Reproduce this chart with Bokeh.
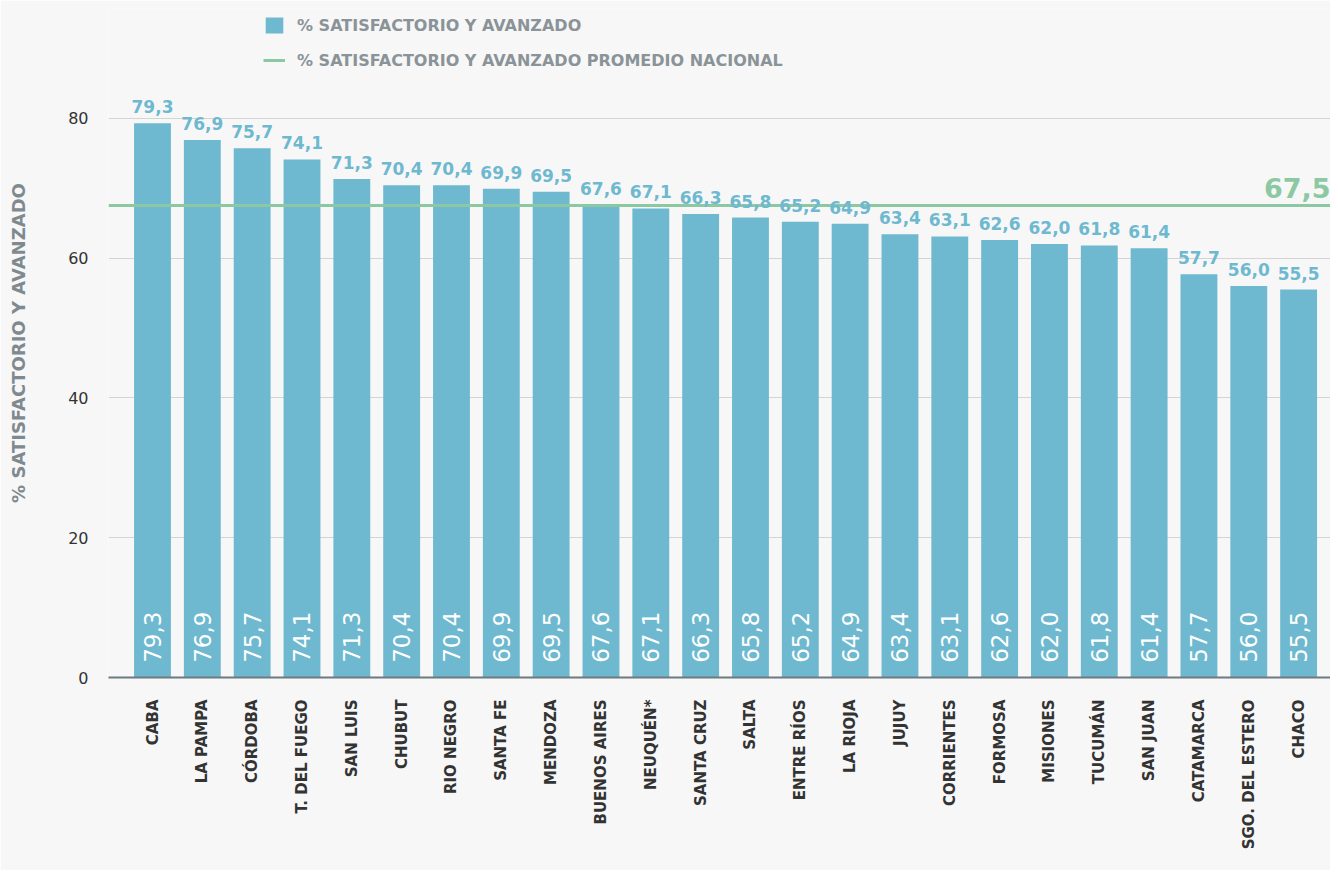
import math
from bokeh.plotting import figure
from bokeh.models import ColumnDataSource, Range1d, Legend, LegendItem, Label, FixedTicker
from bokeh.core.properties import value
from bokeh.embed import file_html
from bokeh.resources import INLINE

provinces = ["CABA", "LA PAMPA", "CÓRDOBA", "T. DEL FUEGO", "SAN LUIS", "CHUBUT",
             "RIO NEGRO", "SANTA FE", "MENDOZA", "BUENOS AIRES", "NEUQUÉN*", "SANTA CRUZ",
             "SALTA", "ENTRE RÍOS", "LA RIOJA", "JUJUY", "CORRIENTES", "FORMOSA",
             "MISIONES", "TUCUMÁN", "SAN JUAN", "CATAMARCA", "SGO. DEL ESTERO", "CHACO"]
values = [79.3, 76.9, 75.7, 74.1, 71.3, 70.4, 70.4, 69.9, 69.5, 67.6, 67.1, 66.3,
          65.8, 65.2, 64.9, 63.4, 63.1, 62.6, 62.0, 61.8, 61.4, 57.7, 56.0, 55.5]
national = 67.5
y_ticks = [0, 20, 40, 60, 80]

series_label = "% SATISFACTORIO Y AVANZADO"
national_label = "% SATISFACTORIO Y AVANZADO PROMEDIO NACIONAL"

BAR = "#6eb9d0"
GREEN = "#8cc9a2"
BG = "#f7f7f7"
FONT = "DejaVu Sans"

def fmt(v):
    return f"{v:.1f}".replace(".", ",")

xs = list(range(len(provinces)))
src = ColumnDataSource(dict(
    x=xs, top=values, label=[fmt(v) for v in values],
    base=[2.1] * len(values),
))

x_start = -0.883
x_end = len(provinces) - 0.36
p = figure(width=1330, height=870, output_backend="svg", toolbar_location=None,
           x_range=Range1d(x_start, x_end), y_range=Range1d(0, 95.7),
           min_border_left=108, min_border_right=0, min_border_top=8, min_border_bottom=193)
p.background_fill_color = BG
p.border_fill_color = BG
p.outline_line_color = None

bars = p.vbar(x="x", top="top", width=0.74, bottom=0, source=src,
              fill_color=BAR, line_color=None)
span = p.hspan(y=[national], line_color=GREEN, line_width=3)

p.text(x="x", y="top", text="label", source=src, text_align="center",
       text_baseline="bottom", y_offset=-10, text_color=BAR,
       text_font=value(FONT), text_font_style="bold", text_font_size="17px")
p.text(x="x", y="base", text="label", source=src, text_align="left",
       text_baseline="middle", angle=math.pi / 2, text_color="white",
       text_font=value(FONT), text_font_size="23px")

p.add_layout(Label(x=x_end, y=national, text=fmt(national), text_align="right",
                   text_baseline="bottom", y_offset=8, text_color=GREEN,
                   text_font=FONT, text_font_style="bold", text_font_size="27px"))

# axes
p.xaxis.ticker = FixedTicker(ticks=xs)
p.xaxis.major_label_overrides = {i: n for i, n in enumerate(provinces)}
p.xaxis.major_label_orientation = math.pi / 2
p.xaxis.major_label_standoff = 22
p.xaxis.major_tick_out = 0
p.xaxis.major_tick_line_color = None
p.xaxis.minor_tick_line_color = None
p.xaxis.axis_line_color = "#6d7b80"
p.xaxis.axis_line_width = 2
p.xaxis.major_label_text_font = FONT
p.xaxis.major_label_text_font_style = "bold"
p.xaxis.major_label_text_font_size = "15px"
p.xaxis.major_label_text_color = "#333333"

p.yaxis.ticker = FixedTicker(ticks=y_ticks)
p.yaxis.axis_line_color = None
p.yaxis.major_tick_out = 0
p.yaxis.major_tick_line_color = None
p.yaxis.minor_tick_line_color = None
p.yaxis.major_label_standoff = 20
p.yaxis.major_label_text_font = FONT
p.yaxis.major_label_text_font_size = "16px"
p.yaxis.major_label_text_color = "#333333"
p.yaxis.axis_label = series_label
p.yaxis.axis_label_standoff = 36
p.yaxis.axis_label_text_font = FONT
p.yaxis.axis_label_text_font_style = "bold"
p.yaxis.axis_label_text_font_size = "18px"
p.yaxis.axis_label_text_color = "#7f8a8f"

p.xgrid.grid_line_color = None
p.ygrid.grid_line_color = "#d4d4d4"
p.ygrid.grid_line_width = 1

legend = Legend(items=[LegendItem(label=series_label, renderers=[bars]),
                       LegendItem(label=national_label, renderers=[span])],
                location=(155, 607), orientation="vertical",
                glyph_width=22, glyph_height=20, spacing=15, padding=0, margin=0,
                label_standoff=12,
                background_fill_alpha=0, border_line_alpha=0,
                label_text_font=FONT, label_text_font_style="bold",
                label_text_font_size="16px", label_text_color="#8a9397")
p.add_layout(legend)

open("out.html", "w").write(file_html(p, INLINE))
